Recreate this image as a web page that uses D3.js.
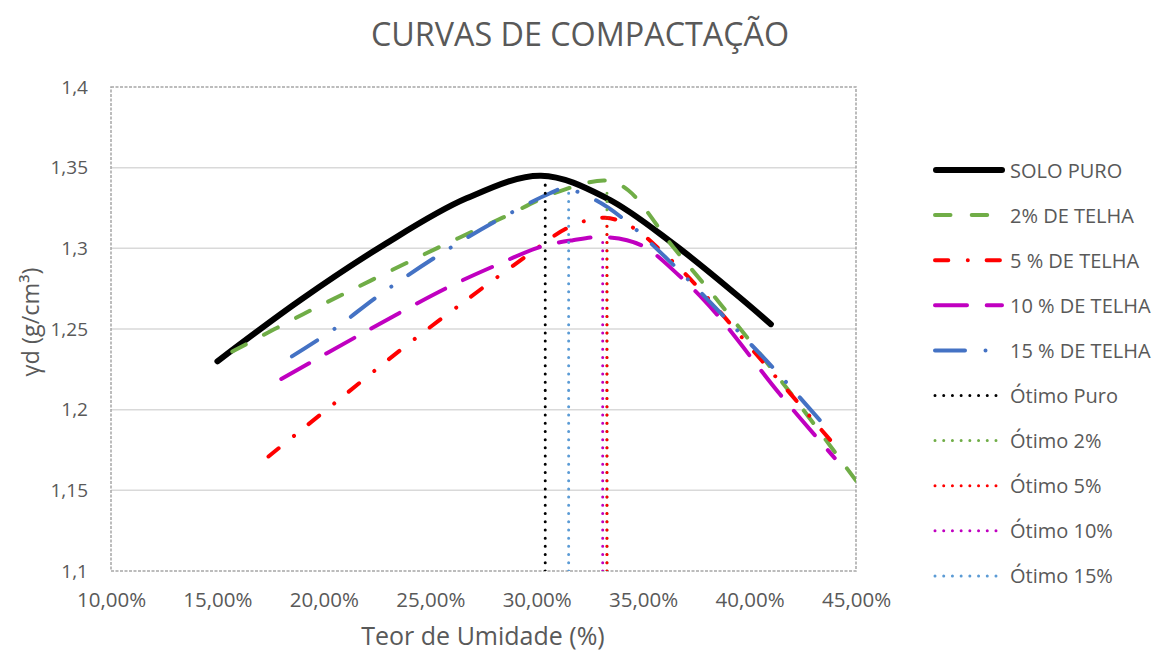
<!DOCTYPE html>
<html>
<head>
<meta charset="utf-8">
<script src="https://cdn.jsdelivr.net/npm/d3@7"></script>
<style>
  html, body { margin: 0; padding: 0; background: #fff; }
  svg { display: block; font-family: "Open Sans", "Noto Sans", sans-serif; }
</style>
</head>
<body>
<svg id="chart" width="1160" height="653"></svg>
<script>
// Compaction curves: dry unit weight (g/cm³) versus moisture content (%)
const seriesNames = ["SOLO PURO", "2% DE TELHA", "5 % DE TELHA", "10 % DE TELHA", "15 % DE TELHA"];

const umidadePuro = [15.0, 18.9, 22.8, 26.7, 30.2, 33.3, 36.4, 39.5, 41.0];
const densPuro    = [1.230, 1.268, 1.302, 1.331, 1.345, 1.331, 1.303, 1.270, 1.253];

const umidade2 = [15.7, 19.0, 22.2, 25.3, 28.4, 31.0, 33.3, 34.3, 36.4, 38.6, 42.0, 45.0];
const dens2    = [1.236, 1.259, 1.280, 1.300, 1.319, 1.335, 1.342, 1.336, 1.301, 1.266, 1.209, 1.156];

const umidade5 = [17.4, 20.5, 23.7, 26.9, 29.5, 31.5, 33.2, 34.5, 35.8, 37.5, 40.6, 43.8];
const dens5    = [1.171, 1.204, 1.238, 1.270, 1.295, 1.313, 1.319, 1.313, 1.299, 1.277, 1.230, 1.181];

const umidade10 = [18.0, 21.5, 25.7, 28.0, 30.2, 31.7, 33.2, 34.9, 36.7, 38.4, 41.4, 44.0];
const dens10    = [1.219, 1.245, 1.275, 1.289, 1.301, 1.305, 1.307, 1.302, 1.283, 1.260, 1.210, 1.170];

const umidade15 = [18.5, 20.6, 22.5, 25.3, 28.1, 30.6, 31.3, 32.6, 34.0, 36.4, 38.7, 41.1, 43.8];
const dens15    = [1.233, 1.251, 1.270, 1.295, 1.317, 1.334, 1.337, 1.331, 1.319, 1.290, 1.259, 1.226, 1.186];

// Optimum moisture content of each mix (vertical reference lines)
const otimoNames = ["Ótimo Puro", "Ótimo 2%", "Ótimo 5%", "Ótimo 10%", "Ótimo 15%"];
const otimoUmidade = [30.4, 33.3, 33.3, 33.1, 31.5];
const otimoDens    = [1.341, 1.339, 1.319, 1.305, 1.336];

const xTicks = [10, 15, 20, 25, 30, 35, 40, 45];
const yTicks = [1.1, 1.15, 1.2, 1.25, 1.3, 1.35, 1.4];

const titleText = "CURVAS DE COMPACTAÇÃO";
const xTitle = "Teor de Umidade (%)";
const yTitle = "γd (g/cm³)";

// ---- styles ----
const seriesStyles = [
  { color: "#000000", width: 6,  dash: null },
  { color: "#70AD47", width: 4,  dash: "15.5 21.2", fitDash: true },
  { color: "#FF0000", width: 4,  dash: "13.3 19.5 0.01 18.8" },
  { color: "#C000C0", width: 4,  dash: "32 19.7" },
  { color: "#4472C4", width: 4,  dash: "30 20.5 0.01 20.5" }
];
const otimoColors = ["#000000", "#70AD47", "#FF0000", "#C000C0", "#5B9BD5"];
const textColor = "#595959";

const ptBR = d3.formatLocale({ decimal: ",", thousands: ".", grouping: [3], currency: ["R$", ""] });
const fmtY = ptBR.format(".3~f");
const fmtX = d => ptBR.format(".2f")(d) + "%";

const svg = d3.select("#chart");
const plot = { left: 111, right: 856, top: 87, bottom: 571 };

const x = d3.scaleLinear().domain([10, 45]).range([plot.left, plot.right]);
const y = d3.scaleLinear().domain([1.1, 1.4]).range([plot.bottom, plot.top]);

// title
svg.append("text")
  .attr("x", 580).attr("y", 33)
  .attr("text-anchor", "middle").attr("dominant-baseline", "central")
  .attr("fill", textColor).attr("font-size", 32.3)
  .text(titleText);

// horizontal gridlines
svg.append("g")
  .selectAll("line")
  .data(yTicks.filter(v => v > 1.1 && v < 1.4))
  .join("line")
  .attr("x1", plot.left).attr("x2", plot.right)
  .attr("y1", d => y(d)).attr("y2", d => y(d))
  .attr("stroke", "#D9D9D9").attr("stroke-width", 1.5);

// axes (labels only)
const yAxis = svg.append("g")
  .attr("transform", `translate(${plot.left},0)`)
  .call(d3.axisLeft(y).tickValues(yTicks).tickFormat(fmtY).tickSize(0).tickPadding(23));
const xAxis = svg.append("g")
  .attr("transform", `translate(0,${plot.bottom})`)
  .call(d3.axisBottom(x).tickValues(xTicks).tickFormat(fmtX).tickSize(0).tickPadding(21));
[yAxis, xAxis].forEach(g => {
  g.select(".domain").remove();
  g.selectAll("text")
    .attr("fill", textColor)
    .attr("font-family", "'Open Sans', sans-serif");
});
yAxis.selectAll("text").attr("font-size", 19);
xAxis.selectAll("text").attr("font-size", 20.5);

// plot area border
svg.append("rect")
  .attr("x", plot.left).attr("y", plot.top)
  .attr("width", plot.right - plot.left).attr("height", plot.bottom - plot.top)
  .attr("fill", "none").attr("stroke", "#A6A6A6")
  .attr("stroke-width", 1.5).attr("stroke-dasharray", "3 1.5");

// axis titles
svg.append("text")
  .attr("x", 483).attr("y", 635)
  .attr("text-anchor", "middle").attr("dominant-baseline", "central")
  .attr("fill", textColor).attr("font-size", 25)
  .text(xTitle);
svg.append("text")
  .attr("transform", "translate(30,322) rotate(-90)")
  .attr("text-anchor", "middle").attr("dominant-baseline", "central")
  .attr("fill", textColor).attr("font-size", 23.5)
  .text(yTitle);

// clip to plot area
svg.append("clipPath").attr("id", "plotClip")
  .append("rect")
  .attr("x", plot.left).attr("y", plot.top)
  .attr("width", plot.right - plot.left).attr("height", plot.bottom - plot.top);

const seriesData = [
  d3.zip(umidadePuro, densPuro),
  d3.zip(umidade2, dens2),
  d3.zip(umidade5, dens5),
  d3.zip(umidade10, dens10),
  d3.zip(umidade15, dens15)
];

const line = d3.line()
  .x(d => x(d[0])).y(d => y(d[1]))
  .curve(d3.curveCatmullRom.alpha(0.5));

const gPlot = svg.append("g").attr("clip-path", "url(#plotClip)");

gPlot.selectAll("path.serie")
  .data(seriesData)
  .join("path")
  .attr("class", "serie")
  .attr("d", line)
  .attr("fill", "none")
  .attr("stroke", (d, i) => seriesStyles[i].color)
  .attr("stroke-width", (d, i) => seriesStyles[i].width)
  .attr("stroke-dasharray", (d, i) => seriesStyles[i].dash)
  .attr("stroke-linecap", "round")
  .attr("stroke-linejoin", "round")
  .each(function (d, i) {
    // stretch the gaps slightly so the dashes start and end on the curve ends
    const st = seriesStyles[i];
    if (!st.fitDash) return;
    const [dash, gap] = st.dash.split(" ").map(Number);
    const L = this.getTotalLength();
    const n = Math.max(1, Math.round((L - dash) / (dash + gap)));
    const period = (L - dash) / n;
    d3.select(this).attr("stroke-dasharray", `${dash} ${period - dash}`);
  });

// optimum lines from the bottom axis up to the maximum dry density
gPlot.selectAll("line.otimo")
  .data(otimoUmidade.map((u, i) => ({ u, d: otimoDens[i], c: otimoColors[i] })))
  .join("line")
  .attr("class", "otimo")
  .attr("x1", d => x(d.u)).attr("x2", d => x(d.u))
  .attr("y1", y(1.1)).attr("y2", d => y(d.d))
  .attr("stroke", d => d.c)
  .attr("stroke-width", 3)
  .attr("stroke-dasharray", "0.01 8.2")
  .attr("stroke-linecap", "round");

// legend
const legendItems = seriesNames.map((n, i) => ({ name: n, color: seriesStyles[i].color, width: seriesStyles[i].width, dash: seriesStyles[i].dash }))
  .concat(otimoNames.map((n, i) => ({ name: n, color: otimoColors[i], width: 3, dash: "0.01 8.7" })));

const legend = svg.append("g");
const rows = legend.selectAll("g")
  .data(legendItems)
  .join("g")
  .attr("transform", (d, i) => `translate(0,${170 + i * 45.1})`);
rows.append("line")
  .attr("x1", d => d.dash ? 935 : 936).attr("x2", 1002)
  .attr("y1", 0).attr("y2", 0)
  .attr("stroke", d => d.color)
  .attr("stroke-width", d => d.width)
  .attr("stroke-dasharray", d => d.dash)
  .attr("stroke-linecap", "round");
rows.append("text")
  .attr("x", 1010).attr("y", 0)
  .attr("dominant-baseline", "central")
  .attr("fill", textColor).attr("font-size", 20)
  .text(d => d.name);
</script>
</body>
</html>
